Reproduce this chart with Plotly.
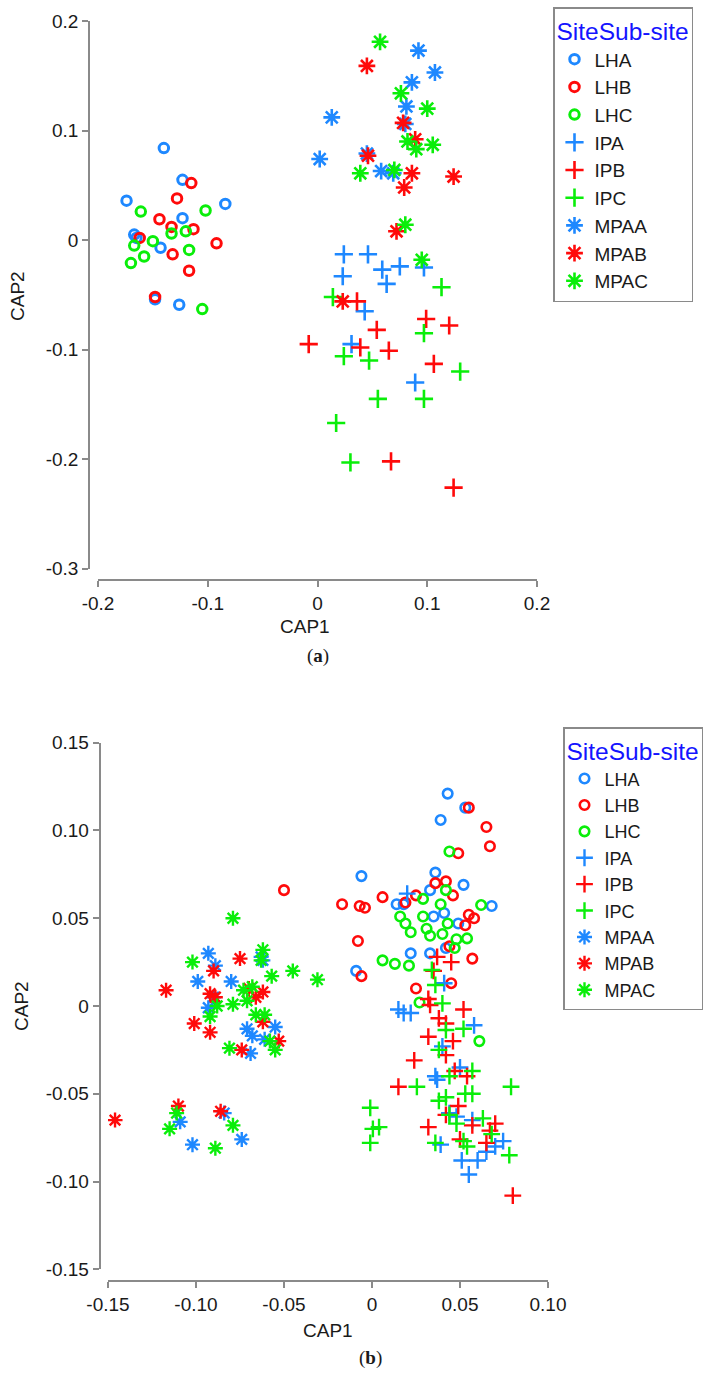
import plotly.graph_objects as go

# ---------------- Data: panel (a) ----------------
A_LHA = [(-0.140, 0.084), (-0.123, 0.055), (-0.174, 0.036), (-0.084, 0.033), (-0.123, 0.020),
         (-0.167, 0.005), (-0.143, -0.007), (-0.148, -0.054), (-0.126, -0.059), (-0.165, 0.002)]
A_LHB = [(-0.115, 0.052), (-0.128, 0.038), (-0.144, 0.019), (-0.133, 0.012), (-0.113, 0.010),
         (-0.162, 0.002), (-0.092, -0.003), (-0.132, -0.013), (-0.117, -0.028), (-0.148, -0.052)]
A_LHC = [(-0.161, 0.026), (-0.102, 0.027), (-0.133, 0.006), (-0.120, 0.008), (-0.150, -0.001),
         (-0.167, -0.005), (-0.117, -0.009), (-0.158, -0.015), (-0.170, -0.021), (-0.105, -0.063)]
A_IPA = [(0.024, -0.013), (0.046, -0.013), (0.023, -0.033), (0.059, -0.027), (0.075, -0.024),
         (0.097, -0.025), (0.063, -0.040), (0.043, -0.065), (0.031, -0.095), (0.089, -0.130)]
A_IPB = [(0.036, -0.056), (0.054, -0.082), (0.099, -0.072), (0.120, -0.078), (-0.008, -0.095),
         (0.039, -0.098), (0.065, -0.101), (0.106, -0.113), (0.067, -0.202), (0.124, -0.226)]
A_IPC = [(0.113, -0.043), (0.014, -0.052), (0.097, -0.085), (0.024, -0.106), (0.047, -0.110),
         (0.130, -0.120), (0.055, -0.145), (0.097, -0.145), (0.017, -0.167), (0.030, -0.203)]
A_MPAA = [(0.092, 0.173), (0.107, 0.153), (0.086, 0.144), (0.081, 0.122), (0.013, 0.112),
          (0.080, 0.106), (0.002, 0.074), (0.045, 0.079), (0.058, 0.063), (0.069, 0.061)]
A_MPAB = [(0.045, 0.159), (0.078, 0.107), (0.089, 0.092), (0.046, 0.077), (0.086, 0.061),
          (0.124, 0.058), (0.079, 0.048), (0.072, 0.008), (0.023, -0.056)]
A_MPAC = [(0.057, 0.181), (0.076, 0.134), (0.100, 0.120), (0.082, 0.090), (0.090, 0.083),
          (0.105, 0.087), (0.039, 0.061), (0.070, 0.064), (0.080, 0.014), (0.095, -0.018)]

# ---------------- Data: panel (b) ----------------
B_LHA = [(0.043, 0.121), (0.053, 0.113), (0.039, 0.106), (-0.006, 0.074), (0.036, 0.076),
         (0.052, 0.069), (0.068, 0.057), (0.014, 0.058), (0.033, 0.066), (0.035, 0.051),
         (0.041, 0.053), (0.049, 0.047), (0.022, 0.030), (0.033, 0.030), (-0.009, 0.020),
         (0.018, 0.058), (0.042, 0.033)]
B_LHB = [(0.055, 0.113), (0.065, 0.102), (0.067, 0.091), (0.049, 0.087), (-0.050, 0.066),
         (-0.017, 0.058), (-0.007, 0.057), (-0.004, 0.056), (0.006, 0.062), (0.019, 0.059),
         (0.025, 0.063), (0.036, 0.070), (0.042, 0.071), (0.046, 0.063), (0.055, 0.052),
         (0.058, 0.050), (0.053, 0.046), (-0.008, 0.037), (0.057, 0.027), (-0.006, 0.017),
         (0.025, 0.010), (0.045, 0.013), (0.044, 0.034)]
B_LHC = [(0.044, 0.088), (0.042, 0.066), (0.029, 0.061), (0.039, 0.058), (0.062, 0.0575),
         (0.016, 0.051), (0.019, 0.047), (0.022, 0.042), (0.029, 0.051), (0.031, 0.044),
         (0.033, 0.040), (0.040, 0.041), (0.043, 0.047), (0.048, 0.038), (0.054, 0.0385),
         (0.047, 0.033), (0.006, 0.026), (0.013, 0.024), (0.021, 0.023), (0.027, 0.002),
         (0.061, -0.020)]
B_IPA = [(0.020, 0.064), (0.041, 0.013), (0.015, -0.002), (0.018, -0.004), (0.022, -0.004),
         (0.058, -0.011), (0.036, -0.040), (0.037, -0.042), (0.050, -0.035), (0.040, -0.023),
         (0.044, -0.061), (0.057, -0.065), (0.039, -0.079), (0.065, -0.083), (0.051, -0.088),
         (0.060, -0.088), (0.055, -0.096), (0.070, -0.080), (0.0745, -0.077), (0.048, -0.063)]
B_IPB = [(0.037, 0.028), (0.045, 0.025), (0.035, 0.020), (0.032, 0.004), (0.033, 0.0006),
         (0.052, -0.002), (0.038, -0.007), (0.042, -0.010), (0.032, -0.0175), (0.046, -0.020),
         (0.042, -0.028), (0.024, -0.031), (0.047, -0.037), (0.054, -0.040), (0.015, -0.046),
         (0.049, -0.057), (0.032, -0.069), (0.042, -0.062), (0.057, -0.068), (0.070, -0.067),
         (0.067, -0.071), (0.050, -0.076), (0.065, -0.078), (0.080, -0.108)]
B_IPC = [(0.034, 0.0205), (0.036, 0.012), (0.040, 0.0015), (0.052, -0.013), (0.042, -0.0137),
         (0.038, -0.025), (0.044, -0.040), (0.057, -0.037), (0.0255, -0.046), (0.038, -0.054),
         (0.042, -0.052), (0.053, -0.050), (0.057, -0.050), (0.044, -0.062), (0.048, -0.067),
         (0.063, -0.064), (0.036, -0.078), (0.052, -0.077), (0.054, -0.080), (0.068, -0.073),
         (0.079, -0.046), (0.078, -0.085), (-0.001, -0.058), (0.0005, -0.070), (0.004, -0.069),
         (-0.001, -0.078)]
B_MPAA = [(-0.093, 0.030), (-0.089, 0.023), (-0.062, 0.026), (-0.063, 0.028), (-0.099, 0.014),
          (-0.080, 0.014), (-0.093, -0.001), (-0.090, 0.005), (-0.071, -0.013), (-0.068, -0.017),
          (-0.055, -0.012), (-0.061, -0.019), (-0.069, -0.027), (-0.109, -0.066), (-0.084, -0.061),
          (-0.102, -0.079), (-0.074, -0.076)]
B_MPAB = [(-0.075, 0.027), (-0.090, 0.020), (-0.117, 0.009), (-0.092, 0.007), (-0.089, 0.005),
          (-0.062, 0.008), (-0.066, 0.005), (-0.101, -0.010), (-0.092, -0.015), (-0.062, -0.009),
          (-0.053, -0.020), (-0.074, -0.025), (-0.146, -0.065), (-0.110, -0.057), (-0.086, -0.060),
          (-0.070, 0.010)]
B_MPAC = [(-0.079, 0.050), (-0.102, 0.025), (-0.062, 0.032), (-0.063, 0.026), (-0.057, 0.017),
          (-0.045, 0.020), (-0.031, 0.015), (-0.073, 0.009), (-0.068, 0.011), (-0.071, 0.003),
          (-0.088, 0.000), (-0.079, 0.001), (-0.092, -0.006), (-0.066, -0.005), (-0.061, -0.005),
          (-0.058, -0.020), (-0.055, -0.025), (-0.081, -0.024), (-0.111, -0.061), (-0.115, -0.070),
          (-0.079, -0.068), (-0.089, -0.081)]

GROUPS = ["LHA", "LHB", "LHC", "IPA", "IPB", "IPC", "MPAA", "MPAB", "MPAC"]
A_DATA = [A_LHA, A_LHB, A_LHC, A_IPA, A_IPB, A_IPC, A_MPAA, A_MPAB, A_MPAC]
B_DATA = [B_LHA, B_LHB, B_LHC, B_IPA, B_IPB, B_IPC, B_MPAA, B_MPAB, B_MPAC]

A_XTICKS = [-0.2, -0.1, 0, 0.1, 0.2]
A_XTEXT = ["-0.2", "-0.1", "0", "0.1", "0.2"]
A_YTICKS = [0.2, 0.1, 0, -0.1, -0.2, -0.3]
A_YTEXT = ["0.2", "0.1", "0", "-0.1", "-0.2", "-0.3"]
B_XTICKS = [-0.15, -0.10, -0.05, 0, 0.05, 0.10]
B_XTEXT = ["-0.15", "-0.10", "-0.05", "0", "0.05", "0.10"]
B_YTICKS = [0.15, 0.10, 0.05, 0, -0.05, -0.10, -0.15]
B_YTEXT = ["0.15", "0.10", "0.05", "0", "-0.05", "-0.10", "-0.15"]

# ---------------- Styling ----------------
W, H = 717, 1377
BLUE, RED, GREEN = "#1E88FF", "#FF0A0A", "#0AEE0A"
COLORS = [BLUE, RED, GREEN] * 3
SYMBOLS = ["circle-open"] * 3 + ["cross-thin-open"] * 3 + ["asterisk-open"] * 3
FONT = "Liberation Sans, Arial, Helvetica, sans-serif"
SERIF = "Liberation Serif, Times New Roman, serif"
AXC = "#8a8a8a"
TXT = "#1a1a1a"


def px(x):
    return x / W


def py(y):
    return 1 - y / H


fig = go.Figure()

sizes_a = {"circle-open": (9.5, 3), "cross-thin-open": (13, 2.6), "asterisk-open": (14, 2.6)}
sizes_b = {"circle-open": (9.5, 2.6), "cross-thin-open": (12, 2.4), "asterisk-open": (12.5, 2.4)}

for name, pts, col, sym in zip(GROUPS, A_DATA, COLORS, SYMBOLS):
    s, lw = sizes_a[sym]
    fig.add_trace(go.Scatter(
        x=[p[0] for p in pts], y=[p[1] for p in pts], mode="markers", name=name,
        marker=dict(symbol=sym, size=s, color=col, line=dict(color=col, width=lw)),
        xaxis="x", yaxis="y", legend="legend"))

for name, pts, col, sym in zip(GROUPS, B_DATA, COLORS, SYMBOLS):
    s, lw = sizes_b[sym]
    fig.add_trace(go.Scatter(
        x=[p[0] for p in pts], y=[p[1] for p in pts], mode="markers", name=name,
        marker=dict(symbol=sym, size=s, color=col, line=dict(color=col, width=lw)),
        xaxis="x2", yaxis="y2", legend="legend2"))

axis_common = dict(showgrid=False, zeroline=False, showline=True, linecolor=AXC, linewidth=1.5,
                   ticks="outside", ticklen=6, tickwidth=1.5, tickcolor=AXC,
                   tickfont=dict(family=FONT, size=19, color=TXT), anchor="free")

legend_common = dict(xanchor="left", yanchor="top", bordercolor=AXC, borderwidth=1.5,
                     bgcolor="white", itemwidth=30,
                     title=dict(text="SiteSub-site", font=dict(family=FONT, size=24.5, color="#1414FF")))

fig.update_layout(
    width=W, height=H, margin=dict(l=0, r=0, t=0, b=0, autoexpand=False),
    paper_bgcolor="white", plot_bgcolor="white",
    font=dict(family=FONT, color=TXT),
    xaxis=dict(domain=[px(98), px(537)], range=[-0.2, 0.2], position=py(580),
               tickvals=A_XTICKS, ticktext=A_XTEXT, **axis_common),
    yaxis=dict(domain=[py(568.7), py(21)], range=[-0.3, 0.2], position=px(89),
               tickvals=A_YTICKS, ticktext=A_YTEXT, **axis_common),
    xaxis2=dict(domain=[px(108), px(548)], range=[-0.15, 0.10], position=py(1281),
                tickvals=B_XTICKS, ticktext=B_XTEXT, **axis_common),
    yaxis2=dict(domain=[py(1269.3), py(742.7)], range=[-0.15, 0.15], position=px(99.5),
                tickvals=B_YTICKS, ticktext=B_YTEXT, **axis_common),
    legend=dict(x=px(553), y=py(7), font=dict(family=FONT, size=19, color=TXT), **legend_common),
    legend2=dict(x=px(563), y=py(727), font=dict(family=FONT, size=18, color=TXT), **legend_common),
)

ann = [
    dict(text="CAP1", x=px(305), y=py(626), size=19, angle=0, fam=FONT),
    dict(text="CAP2", x=px(17), y=py(296), size=19, angle=-90, fam=FONT),
    dict(text="CAP1", x=px(328), y=py(1330), size=19, angle=0, fam=FONT),
    dict(text="CAP2", x=px(21), y=py(1006), size=19, angle=-90, fam=FONT),
    dict(text="(<b>a</b>)", x=px(318), y=py(656), size=19, angle=0, fam=SERIF),
    dict(text="(<b>b</b>)", x=px(370), y=py(1358), size=19, angle=0, fam=SERIF),
]
for a in ann:
    fig.add_annotation(text=a["text"], x=a["x"], y=a["y"], xref="paper", yref="paper",
                       showarrow=False, textangle=a["angle"], xanchor="center", yanchor="middle",
                       font=dict(family=a["fam"], size=a["size"], color=TXT))

fig.write_html("out.html", config={"displayModeBar": False},
               post_script="document.body.style.margin='0px';")
